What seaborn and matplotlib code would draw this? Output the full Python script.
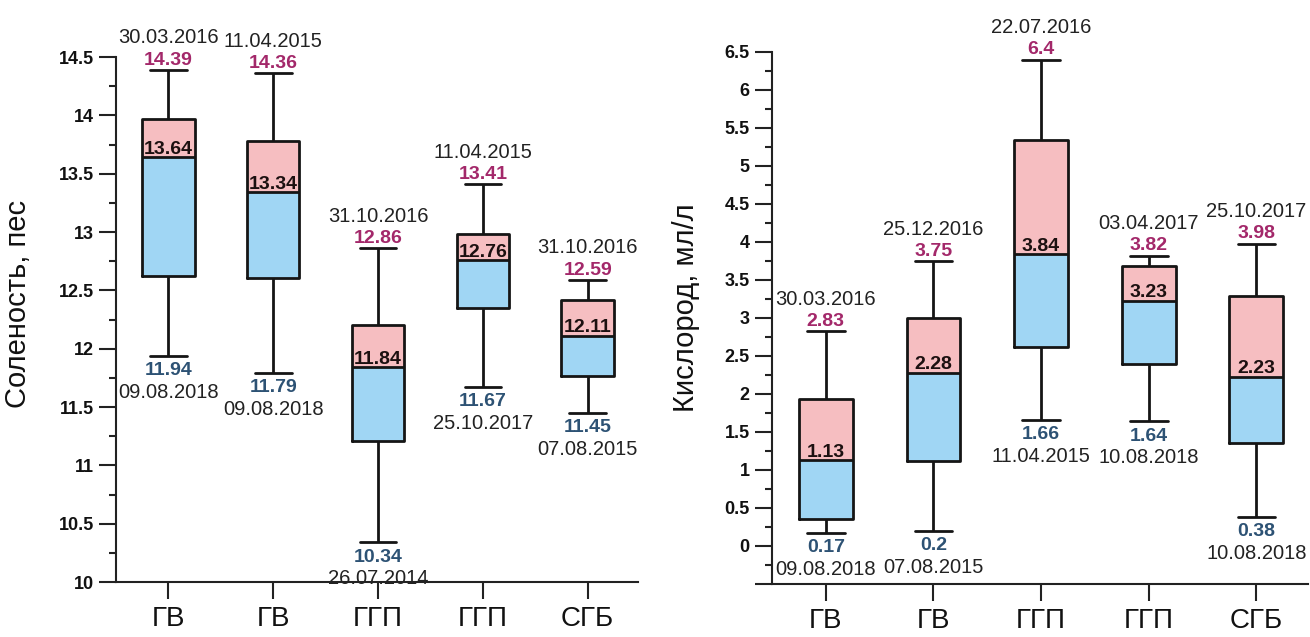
import numpy as np
import pandas as pd
import matplotlib
matplotlib.use("Agg")
import matplotlib.pyplot as plt
import seaborn as sns
from matplotlib.ticker import MultipleLocator, FixedLocator, NullLocator, FuncFormatter

# ---------------- data ----------------
categories = ["ГВ", "ГВ", "ГГП", "ГГП", "СГБ"]

sal_min = [11.94, 11.79, 10.34, 11.67, 11.45]
sal_q1 = [12.62, 12.61, 11.21, 12.35, 11.77]
sal_med = [13.64, 13.34, 11.84, 12.76, 12.11]
sal_q3 = [13.97, 13.78, 12.20, 12.98, 12.42]
sal_max = [14.39, 14.36, 12.86, 13.41, 12.59]
sal_max_dates = ["30.03.2016", "11.04.2015", "31.10.2016", "11.04.2015", "31.10.2016"]
sal_min_dates = ["09.08.2018", "09.08.2018", "26.07.2014", "25.10.2017", "07.08.2015"]

oxy_min = [0.17, 0.20, 1.66, 1.64, 0.38]
oxy_q1 = [0.36, 1.12, 2.62, 2.39, 1.35]
oxy_med = [1.13, 2.28, 3.84, 3.23, 2.23]
oxy_q3 = [1.94, 3.00, 5.34, 3.69, 3.29]
oxy_max = [2.83, 3.75, 6.40, 3.82, 3.98]
oxy_max_dates = ["30.03.2016", "25.12.2016", "22.07.2016", "03.04.2017", "25.10.2017"]
oxy_min_dates = ["09.08.2018", "07.08.2015", "11.04.2015", "10.08.2018", "10.08.2018"]

sal_label = "Соленость, пес"
oxy_label = "Кислород, мл/л"

# ---------------- style ----------------
sns.set_style("ticks")
plt.rcParams["font.family"] = ["Liberation Sans", "DejaVu Sans"]

PINK = "#F6BEC1"
BLUE = "#A0D6F4"
MAXC = "#A3286A"
MINC = "#2D5274"
DATEC = "#222222"
MEDC = "#1C1010"
LINEC = "#151515"

W, H = 1310, 637
fig = plt.figure(figsize=(W / 100, H / 100), dpi=100)
ax1 = fig.add_axes([116 / W, 1 - 582 / H, 522 / W, 525 / H])
ax2 = fig.add_axes([772 / W, 1 - 584 / H, 536 / W, 532 / H])


def draw(ax, vmin, q1, med, q3, vmax, maxd, mind, ylabel, ylim, majors, labelcoords):
    pos = np.arange(len(categories))
    vals = np.column_stack([vmin, q1, med, q3, vmax])
    df = pd.DataFrame({"pos": np.repeat(pos, vals.shape[1]), "val": vals.ravel()})
    sns.boxplot(data=df, x="pos", y="val", whis=(0, 100), width=0.5, fill=False,
                color=LINEC, linecolor=LINEC, linewidth=2.0, capwidths=0.35,
                ax=ax, zorder=3)
    q1a, meda, q3a = np.array(q1), np.array(med), np.array(q3)
    ax.bar(pos, meda - q1a, bottom=q1a, width=0.5, color=BLUE, linewidth=0, zorder=1)
    ax.bar(pos, q3a - meda, bottom=meda, width=0.5, color=PINK, linewidth=0, zorder=1)

    for i in pos:
        ax.annotate(f"{vmax[i]:g}", (i, vmax[i]), xytext=(0, 3.8), textcoords="offset points",
                    ha="center", va="baseline", color=MAXC, fontsize=14, fontweight="bold",
                    annotation_clip=False, zorder=5)
        ax.annotate(maxd[i], (i, vmax[i]), xytext=(0, 19), textcoords="offset points",
                    ha="center", va="baseline", color=DATEC, fontsize=14.5,
                    annotation_clip=False, zorder=5)
        ax.annotate(f"{vmin[i]:g}", (i, vmin[i]), xytext=(0, -4.5), textcoords="offset points",
                    ha="center", va="top", color=MINC, fontsize=14, fontweight="bold",
                    annotation_clip=False, zorder=5)
        ax.annotate(mind[i], (i, vmin[i]), xytext=(0, -19.5), textcoords="offset points",
                    ha="center", va="top", color=DATEC, fontsize=14.5,
                    annotation_clip=False, zorder=5)
        ax.annotate(f"{med[i]:g}", (i, med[i]), xytext=(0, 2.5), textcoords="offset points",
                    ha="center", va="baseline", color=MEDC, fontsize=14, fontweight="bold",
                    annotation_clip=False, zorder=5)

    ax.set_xlim(-0.5, 4.48)
    ax.set_ylim(*ylim)
    ax.set_xticks(pos)
    ax.set_xticklabels(categories)
    ax.xaxis.set_minor_locator(NullLocator())
    ax.yaxis.set_major_locator(FixedLocator(majors))
    ax.yaxis.set_minor_locator(MultipleLocator(0.25))
    ax.yaxis.set_major_formatter(FuncFormatter(lambda v, p: f"{v:g}" if v >= ylim[0] + 1e-9 or ylim[0] >= 0 else ""))
    ax.set_xlabel("")
    ax.set_ylabel(ylabel, fontsize=21, color="#111111")
    ax.yaxis.set_label_coords(*labelcoords)
    sns.despine(ax=ax)
    for s in ("left", "bottom"):
        ax.spines[s].set_linewidth(1.5)
        ax.spines[s].set_color("#222222")
    ax.tick_params(axis="both", which="major", length=12, width=1.5, color="#222222", direction="out")
    ax.tick_params(axis="y", which="minor", length=5, width=1.5, color="#222222", direction="out")
    ax.tick_params(axis="x", labelsize=20, pad=5, labelcolor="#111111")
    ax.tick_params(axis="y", labelsize=13, pad=4, labelcolor="#111111")
    for lbl in ax.get_yticklabels():
        lbl.set_fontweight("bold")
    ax.set_facecolor("white")


draw(ax1, sal_min, sal_q1, sal_med, sal_q3, sal_max, sal_max_dates, sal_min_dates,
     sal_label, (10, 14.5), np.arange(10, 14.51, 0.5), (-0.16, 0.53))
draw(ax2, oxy_min, oxy_q1, oxy_med, oxy_q3, oxy_max, oxy_max_dates, oxy_min_dates,
     oxy_label, (-0.5, 6.5), np.arange(-0.5, 6.51, 0.5), (-0.135, 0.52))

fig.savefig("out.png", dpi=100, facecolor="white")
